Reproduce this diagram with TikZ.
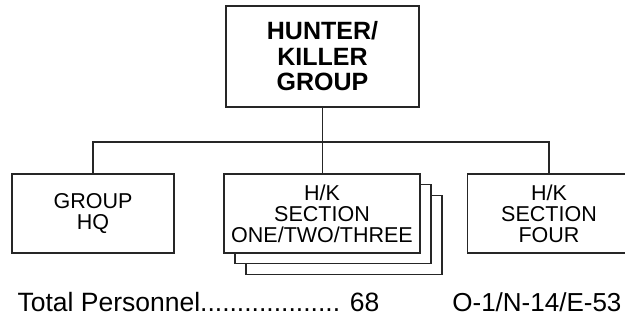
\documentclass[tikz,border=0pt]{standalone}
\usepackage{fontspec}
\setmainfont{Liberation Sans}
\begin{document}
\begin{tikzpicture}[x=1pt, y=-1pt, line width=1.1pt, draw=black!85,
    unitbox/.style={draw, fill=white, inner sep=0pt, align=center,
      minimum height=79pt, font=\fontsize{21.5}{21}\selectfont},
    totals/.style={inner sep=0pt, font=\fontsize{26.5}{28}\selectfont}]
  \useasboundingbox (0,0) rectangle (625,320);

  % ── Mando (arriba) ───────────────────────────────────────────────
  \node[draw, inner sep=0pt, align=center, minimum width=193pt, minimum height=101pt,
        font=\fontsize{25}{25.5}\selectfont\bfseries] (hkg) at (322.5,56.5)
        {HUNTER/\\KILLER\\GROUP};

  % ── Unidades (abajo) ─────────────────────────────────────────────
  \node[unitbox, minimum width=162pt] (ghq) at (93,213.5) {GROUP\\HQ};
  \node[unitbox, minimum width=196pt] (sec3) at (344,235) {};
  \node[unitbox, minimum width=196pt] (sec2) at (333,224) {};
  \node[unitbox, minimum width=196pt] (sec) at (322,213.5)
        {H/K\\SECTION\\ONE/TWO/THREE};
  \node[unitbox, minimum width=163pt] (sfour) at (549,213.5)
        {H/K\\SECTION\\FOUR};

  \coordinate (bus) at (322.5,142);
  \draw (hkg.south) -- (hkg.south |- sec.north);
  \draw (ghq.north) |- (bus) -| (sfour.north);

  % ── Totales ──────────────────────────────────────────────────────
  \node[totals, anchor=base west] (tot) at (17,312) {Total Personnel................... 68};
  \node[totals, anchor=base east, font=\fontsize{26}{28}\selectfont] (grade) at (622,312)
        {O-1/N-14/E-53};
\end{tikzpicture}
\end{document}
